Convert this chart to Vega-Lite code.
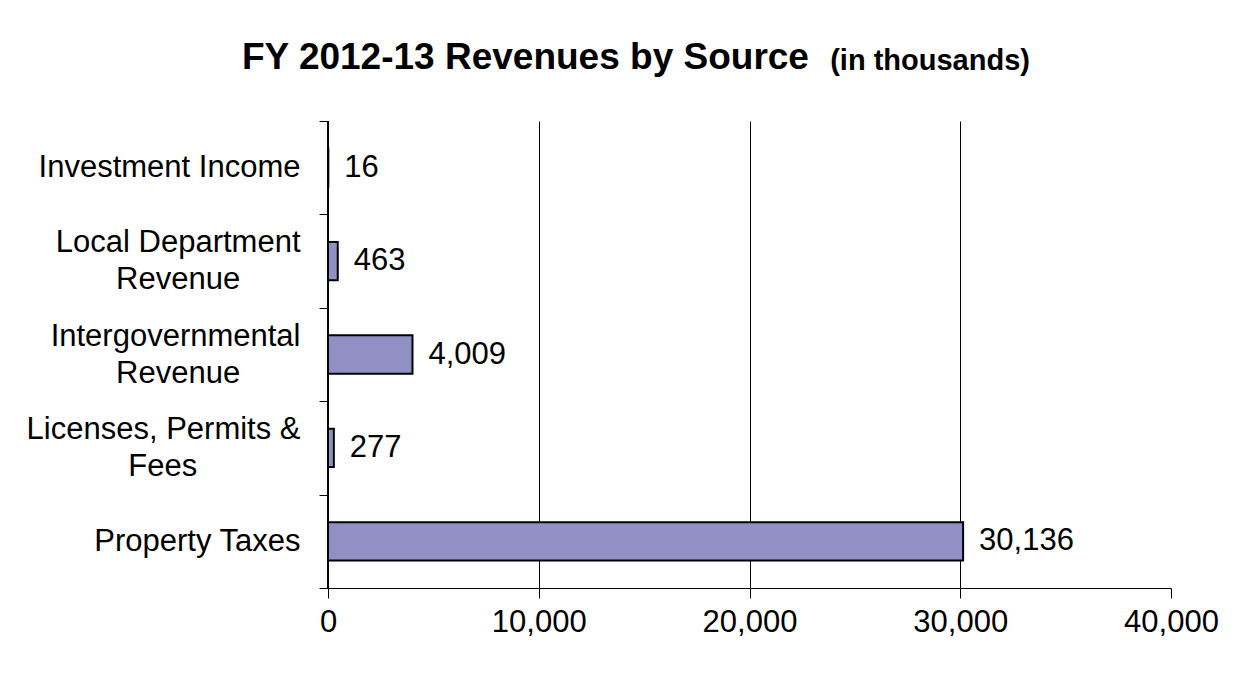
{
  "$schema": "https://vega.github.io/schema/vega-lite/v6.json",
  "width": 843,
  "height": 467,
  "autosize": {"type": "none"},
  "padding": {"left": 328, "top": 121, "right": 83, "bottom": 89},
  "background": "white",
  "title": {
    "text": "FY 2012-13 Revenues by Source",
    "subtitle": "\u200b\u00a0\u00a0\u00a0\u00a0\u00a0\u00a0\u00a0\u00a0\u00a0\u00a0\u00a0\u00a0\u00a0\u00a0\u00a0\u00a0\u00a0\u00a0\u00a0\u00a0\u00a0\u00a0\u00a0\u00a0\u00a0\u00a0\u00a0\u00a0\u00a0\u00a0\u00a0\u00a0\u00a0\u00a0\u00a0\u00a0\u00a0\u00a0\u00a0\u00a0\u00a0\u00a0\u00a0\u00a0\u00a0\u00a0\u00a0\u00a0\u00a0\u00a0\u00a0\u00a0\u00a0\u00a0\u00a0\u00a0\u00a0\u00a0\u00a0\u00a0\u00a0\u00a0\u00a0\u00a0\u00a0\u00a0\u00a0\u00a0\u00a0\u00a0\u00a0\u00a0\u00a0(in thousands)",
    "anchor": "start",
    "frame": "group",
    "dx": -86,
    "font": "Liberation Sans",
    "fontSize": 37,
    "fontWeight": "bold",
    "color": "black",
    "subtitleFont": "Liberation Sans",
    "subtitleFontSize": 29,
    "subtitleFontWeight": "bold",
    "subtitleColor": "black",
    "subtitlePadding": -30,
    "offset": 28
  },
  "config": {
    "view": {"stroke": null},
    "font": "Liberation Sans"
  },
  "data": {
    "values": [
      {"source": "Investment Income", "value": 16},
      {"source": "Local Department Revenue", "value": 463},
      {"source": "Intergovernmental Revenue", "value": 4009},
      {"source": "Licenses, Permits & Fees", "value": 277},
      {"source": "Property Taxes", "value": 30136}
    ]
  },
  "encoding": {
    "y": {
      "field": "source",
      "type": "nominal",
      "sort": null,
      "scale": {"paddingInner": 0, "paddingOuter": 0},
      "axis": {
        "title": null,
        "domain": true,
        "domainColor": "black",
        "domainWidth": 1,
        "ticks": true,
        "tickColor": "black",
        "tickWidth": 1,
        "tickSize": 9,
        "tickBand": "extent",
        "labelFont": "Liberation Sans",
        "labelFontSize": 31,
        "labelColor": "black",
        "labelPadding": 19,
        "labelLineHeight": 37,
        "labelLimit": 400,
        "labelOffset": {
          "condition": {"test": "datum.value == 'Local Department Revenue' || datum.value == 'Intergovernmental Revenue' || datum.value == 'Licenses, Permits & Fees'", "value": -18.5},
          "value": 0
        },
        "labelExpr": "datum.label == 'Local Department Revenue' ? ['Local Department', 'Revenue\u00a0\u00a0\u00a0\u00a0\u00a0\u00a0\u00a0\u200b'] : datum.label == 'Intergovernmental Revenue' ? ['Intergovernmental', 'Revenue\u00a0\u00a0\u00a0\u00a0\u00a0\u00a0\u00a0\u200b'] : datum.label == 'Licenses, Permits & Fees' ? ['Licenses, Permits &', 'Fees\u00a0\u00a0\u00a0\u00a0\u00a0\u00a0\u00a0\u00a0\u00a0\u00a0\u00a0\u00a0\u200b'] : datum.label"
      }
    },
    "x": {
      "field": "value",
      "type": "quantitative",
      "scale": {"domain": [0, 40000], "nice": false},
      "axis": {
        "title": null,
        "values": [0, 10000, 20000, 30000, 40000],
        "format": ",d",
        "domainColor": "black",
        "domainWidth": 1,
        "tickColor": "black",
        "tickWidth": 1,
        "tickSize": 10,
        "labelFont": "Liberation Sans",
        "labelFontSize": 31,
        "labelColor": "black",
        "labelPadding": 9,
        "labelFlush": false,
        "grid": true,
        "gridWidth": 1,
        "gridColor": {
          "condition": {"test": "datum.value == 40000", "value": "transparent"},
          "value": "black"
        }
      }
    }
  },
  "layer": [
    {
      "mark": {"type": "bar", "height": {"band": 0.41}, "fill": "#9090c4", "stroke": "black", "strokeWidth": 2}
    },
    {
      "mark": {"type": "rule", "color": "black", "strokeWidth": 1},
      "encoding": {
        "x": {"datum": 0},
        "y": null
      }
    },
    {
      "mark": {"type": "text", "align": "left", "baseline": "middle", "dx": 16, "fontSize": 31, "font": "Liberation Sans", "color": "black"},
      "encoding": {
        "text": {"field": "value", "type": "quantitative", "format": ",d"}
      }
    }
  ]
}
